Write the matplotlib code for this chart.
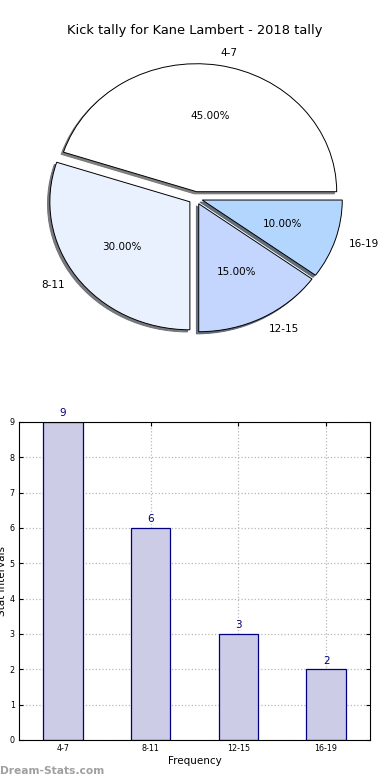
import numpy as np
import matplotlib
matplotlib.use('Agg')
import matplotlib.pyplot as plt

# data
intervals = ['4-7', '8-11', '12-15', '16-19']
counts = [9, 6, 3, 2]
pie_colors = ['#ffffff', '#eaf1fe', '#c4d6fe', '#b3d6fe']

fig = plt.figure(figsize=(3.9, 7.8), dpi=100)

# pie (elliptical, old-style look)
ax1 = fig.add_axes([0.1064, 0.5656, 0.79, 0.361])
ax1.pie(counts, labels=intervals, colors=pie_colors, explode=[0.05] * 4,
        autopct='%1.2f%%', startangle=0,
        shadow=dict(ox=-0.012, oy=-0.012, shade=0.55, alpha=0.9),
        wedgeprops=dict(edgecolor='black', linewidth=0.7),
        textprops=dict(fontsize=7.5))
ax1.set_aspect('auto')
ax1.set_xlim(-1.1, 1.1)
ax1.set_ylim(-1.1, 1.1)
fig.text(0.5, 0.961, 'Kick tally for Kane Lambert - 2018 tally',
         ha='center', va='center', fontsize=9.4)

# bars
ax2 = fig.add_axes([0.0487, 0.0513, 0.9, 0.4077])
x = np.arange(len(intervals))
bars = ax2.bar(x, counts, width=0.45, color='#ccccE6', edgecolor='navy',
               linewidth=0.9, zorder=2)
for b, v in zip(bars, counts):
    ax2.text(b.get_x() + b.get_width() / 2, v + 0.1, str(v), ha='center',
             va='bottom', color='navy', fontsize=7.5)
ax2.set_xlim(-0.5, 3.5)
ax2.set_ylim(0, 9)
ax2.set_xticks(x)
ax2.set_xticklabels(intervals)
ax2.set_yticks(range(10))
ax2.tick_params(labelsize=5.8, direction='in', length=3, top=True, right=True, pad=3)
ax2.grid(True, linestyle=':', color='#b8b8b8', linewidth=0.9, zorder=0)
ax2.set_axisbelow(True)
ax2.set_xlabel('Frequency', fontsize=7.5, labelpad=2)
ax2.set_ylabel('Stat Intervals', fontsize=7.5, labelpad=2)

fig.text(0.0, 0.012, 'Dream-Stats.com', ha='left', va='center', fontsize=7.7,
         fontweight='bold', color='#a0a0a0')

fig.savefig('out.png', dpi=100)
